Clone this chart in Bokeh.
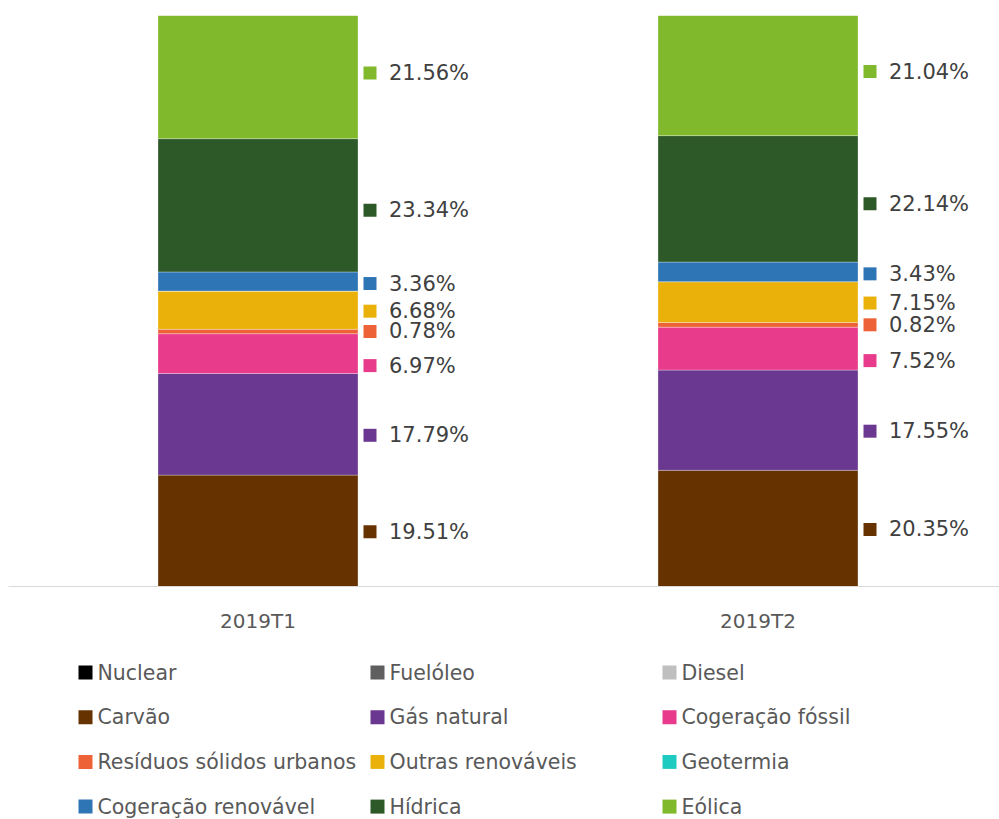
from bokeh.plotting import figure
from bokeh.models import ColumnDataSource, Range1d, FixedTicker
from bokeh.layouts import column
from bokeh.core.properties import value
from bokeh.embed import file_html
from bokeh.resources import INLINE

# ---------------- data ----------------
categories = ["2019T1", "2019T2"]
series = ["Nuclear", "Fuelóleo", "Diesel", "Carvão", "Gás natural",
          "Cogeração fóssil", "Resíduos sólidos urbanos", "Outras renováveis",
          "Geotermia", "Cogeração renovável", "Hídrica", "Eólica"]
nuclear = [0.0, 0.0]
fueloleo = [0.0, 0.0]
diesel = [0.0, 0.0]
carvao = [19.51, 20.35]
gas_natural = [17.79, 17.55]
cogeracao_fossil = [6.97, 7.52]
residuos = [0.78, 0.82]
outras_renovaveis = [6.68, 7.15]
geotermia = [0.0, 0.0]
cogeracao_renovavel = [3.36, 3.43]
hidrica = [23.34, 22.14]
eolica = [21.56, 21.04]

values = [nuclear, fueloleo, diesel, carvao, gas_natural, cogeracao_fossil,
          residuos, outras_renovaveis, geotermia, cogeracao_renovavel, hidrica, eolica]

# ---------------- style ----------------
colors = ["#000000", "#5f5f5f", "#bfbfbf", "#663300", "#6a3791", "#e83b8b",
          "#ee6238", "#e9b109", "#1ecbc0", "#2e75b6", "#2d5827", "#80b92b"]
# vertical nudge of data labels (screen px, positive = downwards)
label_nudge_px = [0, 0, 0, 1, 11, 12, 0, 1, 0, 2, 5, -4]

FONT = value("DejaVu Sans")
BAR_W = 0.4
PX_PER_X = 500.0
FRAME_H = 571.0
W = 999
LEFT = 8

keys = ["s%d" % i for i in range(len(series))]
data = {"x": list(range(len(categories)))}
for k, v in zip(keys, values):
    data[k] = v
source = ColumnDataSource(data)

p = figure(width=W, height=640,
           x_range=Range1d(-(257.5 - LEFT) / PX_PER_X, (W - 257.5) / PX_PER_X),
           y_range=Range1d(0, 100),
           output_backend="svg", toolbar_location=None,
           y_axis_location=None,
           min_border_top=15, min_border_left=LEFT, min_border_right=0,
           min_border_bottom=54)
p.outline_line_color = None
p.xgrid.visible = False
p.ygrid.visible = False
p.background_fill_color = "white"

p.vbar_stack(keys, x="x", width=BAR_W, color=colors, source=source,
             line_color="white", line_alpha=0.3, line_width=1)

# data labels
lx, ltx, ly, ltext, lcol = [], [], [], [], []
for ci in range(len(categories)):
    cum = 0.0
    for si, v in enumerate(values):
        val = v[ci]
        if val > 0:
            mid = cum + val / 2.0
            y = mid - label_nudge_px[si] * 100.0 / FRAME_H
            lx.append(ci + BAR_W / 2 + 12 / PX_PER_X)
            ltx.append(ci + BAR_W / 2 + 31 / PX_PER_X)
            ly.append(y)
            ltext.append("%.2f%%" % val)
            lcol.append(colors[si])
        cum += val
lab = ColumnDataSource(dict(mx=lx, tx=ltx, y=ly, text=ltext, c=lcol))
p.scatter(x="mx", y="y", marker="square", size=13, fill_color="c",
          line_color=None, source=lab)
p.text(x="tx", y="y", text="text", source=lab, text_font=FONT,
       text_font_size=value("21px"), text_color="#404040",
       text_baseline="middle", text_align="left")

ax = p.xaxis[0]
ax.ticker = FixedTicker(ticks=list(range(len(categories))))
ax.major_label_overrides = {i: c for i, c in enumerate(categories)}
ax.axis_line_color = "#d9d9d9"
ax.axis_line_width = 1
ax.major_tick_line_color = None
ax.minor_tick_line_color = None
ax.major_tick_out = 0
ax.major_tick_in = 0
ax.major_label_standoff = 22
ax.major_label_text_font = "DejaVu Sans"
ax.major_label_text_font_size = "20px"
ax.major_label_text_color = "#595959"

# ---------------- legend (drawn in a pixel-space panel) ----------------
LH = 179
lf = figure(width=W, height=LH, x_range=Range1d(LEFT, W), y_range=Range1d(LH, 0),
            output_backend="svg", toolbar_location=None,
            x_axis_location=None, y_axis_location=None,
            min_border_left=LEFT, min_border_right=0,
            min_border_top=0, min_border_bottom=0)
lf.outline_line_color = None
lf.xgrid.visible = False
lf.ygrid.visible = False

ncols = 3
gx, gy, gt, gc = [], [], [], []
for i, name in enumerate(series):
    col, row = i % ncols, i // ncols
    gx.append(85 + col * 292)
    gy.append(32 + row * 44.7)
    gt.append(name)
    gc.append(colors[i])
leg = ColumnDataSource(dict(x=gx, tx=[v + 12 for v in gx], y=gy, text=gt, c=gc))
lf.scatter(x="x", y="y", marker="square", size=14, fill_color="c",
           line_color=None, source=leg)
lf.text(x="tx", y="y", text="text", source=leg, text_font=FONT,
        text_font_size=value("20.5px"), text_color="#595959",
        text_baseline="middle", text_align="left")

layout = column(p, lf, spacing=0)
open("out.html", "w").write(file_html(layout, INLINE))
